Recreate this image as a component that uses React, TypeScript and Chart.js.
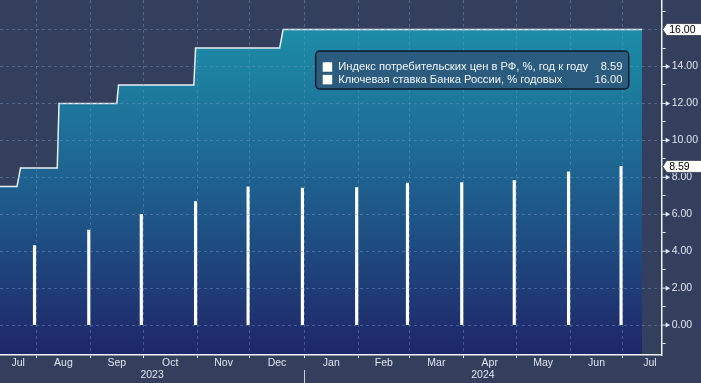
import React, { useEffect, useRef } from 'react';
import { Chart, registerables } from 'chart.js';

Chart.register(...registerables);

const dayNum = (s: string): number => {
  const [y, m, d] = s.split('-').map(Number);
  return Date.UTC(y, m - 1, d) / 86400000;
};

// ---- tick labels / categories ----
const monthNames = ['Jul', 'Aug', 'Sep', 'Oct', 'Nov', 'Dec', 'Jan', 'Feb', 'Mar', 'Apr', 'May', 'Jun', 'Jul'];
const monthStarts = [
  '2023-07-01', '2023-08-01', '2023-09-01', '2023-10-01', '2023-11-01', '2023-12-01', '2024-01-01',
  '2024-02-01', '2024-03-01', '2024-04-01', '2024-05-01', '2024-06-01', '2024-07-01', '2024-08-01',
];
const yearNames = ['2023', '2024'];
const yearStarts = ['2023-01-01', '2024-01-01', '2025-01-01'];
const yMajorTicks = [0, 2, 4, 6, 8, 10, 12, 14, 16];
const yMinorTicks = [-1, 1, 3, 5, 7, 9, 11, 13, 15, 17];

// ---- series ----
const legendLabels = [
  'Индекс потребительских цен в РФ, %, год к году',
  'Ключевая ставка Банка России, % годовых',
];
const cpiDates = [
  '2023-07-31', '2023-08-31', '2023-09-30', '2023-10-31', '2023-11-30', '2023-12-31',
  '2024-01-31', '2024-02-29', '2024-03-31', '2024-04-30', '2024-05-31', '2024-06-30',
];
const cpiValues = [4.3, 5.15, 6.0, 6.69, 7.48, 7.42, 7.44, 7.69, 7.72, 7.84, 8.3, 8.59];

const keyRateDates = [
  '2023-07-01', '2023-07-21', '2023-07-23', '2023-08-13', '2023-08-14', '2023-09-16',
  '2023-09-17', '2023-10-30', '2023-10-31', '2023-12-18', '2023-12-20', '2024-07-12',
];
const keyRateValues = [7.5, 7.5, 8.5, 8.5, 12, 12, 13, 13, 15, 15, 16, 16];

// ---- axis ranges ----
const X_MIN = dayNum('2023-08-01') - 20.7;
const X_MAX = X_MIN + 377.9;
const Y_MIN = -1.62;
const Y_MAX = 17.6;

const BG = '#343f5e';
const GRID = 'rgba(112, 150, 200, 0.45)';
const AXIS = '#eef1f6';
const TEXT = '#e0e5ed';
const FONT = 'Liberation Sans';

const monthLabelPos = monthNames.map(
  (_, i) => (Math.max(dayNum(monthStarts[i]), X_MIN) + dayNum(monthStarts[i + 1])) / 2
);
const yearLabelPos = yearNames.map(
  (_, i) => (Math.max(dayNum(yearStarts[i]), X_MIN) + Math.min(dayNum(yearStarts[i + 1]), X_MAX)) / 2
);
const isMajor = (v: number) => yMajorTicks.includes(v);

function roundRectPath(ctx: CanvasRenderingContext2D, x: number, y: number, w: number, h: number, r: number) {
  ctx.beginPath();
  ctx.moveTo(x + r, y);
  ctx.lineTo(x + w - r, y);
  ctx.arcTo(x + w, y, x + w, y + r, r);
  ctx.lineTo(x + w, y + h - r);
  ctx.arcTo(x + w, y + h, x + w - r, y + h, r);
  ctx.lineTo(x + r, y + h);
  ctx.arcTo(x, y + h, x, y + h - r, r);
  ctx.lineTo(x, y + r);
  ctx.arcTo(x, y, x + r, y, r);
  ctx.closePath();
}

function drawTag(ctx: CanvasRenderingContext2D, ax: number, py: number, text: string, right: number) {
  const h = 12;
  const tip = ax + 1;
  const bx = tip + 4;
  ctx.beginPath();
  ctx.moveTo(tip, py);
  ctx.lineTo(bx, py - h / 2);
  ctx.lineTo(right + 2, py - h / 2);
  ctx.lineTo(right + 2, py + h / 2);
  ctx.lineTo(bx, py + h / 2);
  ctx.closePath();
  ctx.fillStyle = '#ffffff';
  ctx.fill();
  ctx.strokeStyle = '#30384a';
  ctx.lineWidth = 0.8;
  ctx.stroke();
  ctx.fillStyle = '#000000';
  ctx.font = `10.5px "${FONT}"`;
  ctx.textAlign = 'left';
  ctx.textBaseline = 'middle';
  ctx.fillText(text, bx + 2.5, py + 0.5);
}

const bgPlugin = {
  id: 'bgPlugin',
  beforeDraw(chart: any) {
    const { ctx, width, height } = chart;
    ctx.save();
    ctx.fillStyle = BG;
    ctx.fillRect(0, 0, width, height);
    ctx.restore();
  },
};

const overlayPlugin = {
  id: 'overlayPlugin',
  afterDraw(chart: any) {
    const { ctx, chartArea } = chart;
    const ys = chart.scales.y;
    const xs = chart.scales.x;
    const ax = ys.left;
    ctx.save();
    // arrow-shaped major ticks
    ctx.fillStyle = TEXT;
    ctx.strokeStyle = TEXT;
    ctx.lineWidth = 1;
    for (const v of yMajorTicks) {
      const py = ys.getPixelForValue(v);
      ctx.beginPath();
      ctx.moveTo(ax, py);
      ctx.lineTo(ax + 5, py);
      ctx.stroke();
      ctx.beginPath();
      ctx.moveTo(ax + 4, py - 2.5);
      ctx.lineTo(ax + 8.5, py);
      ctx.lineTo(ax + 4, py + 2.5);
      ctx.closePath();
      ctx.fill();
    }
    // year separator
    const sx = Math.round(xs.getPixelForValue(dayNum(yearStarts[1]))) + 0.5;
    ctx.strokeStyle = '#c9cfdb';
    ctx.lineWidth = 1;
    ctx.beginPath();
    ctx.moveTo(sx, chart.scales.xYear.top);
    ctx.lineTo(sx, chart.height);
    ctx.stroke();

    // last-value tags
    const lastRate = keyRateValues[keyRateValues.length - 1];
    const lastCpi = cpiValues[cpiValues.length - 1];
    drawTag(ctx, ax, ys.getPixelForValue(lastRate), lastRate.toFixed(2), chart.width);
    drawTag(ctx, ax, ys.getPixelForValue(lastCpi), lastCpi.toFixed(2), chart.width);

    // legend
    const lw = 313;
    const lh = 38;
    const lx = chartArea.right - 33 - lw;
    const ly = chartArea.top + 51;
    roundRectPath(ctx, lx, ly, lw, lh, 4);
    ctx.fillStyle = '#2b5c80';
    ctx.fill();
    ctx.strokeStyle = '#0f1a2a';
    ctx.lineWidth = 1.5;
    ctx.stroke();
    const rows = [
      { label: legendLabels[0], value: lastCpi.toFixed(2) },
      { label: legendLabels[1], value: lastRate.toFixed(2) },
    ];
    ctx.font = `11.2px "${FONT}"`;
    ctx.textBaseline = 'middle';
    rows.forEach((r, i) => {
      const ry = ly + 16 + i * 12.6;
      ctx.fillStyle = '#ffffff';
      ctx.fillRect(lx + 7, ry - 4.75, 9.5, 9.5);
      ctx.fillStyle = '#f4f6fa';
      ctx.textAlign = 'left';
      ctx.fillText(r.label, lx + 22.5, ry);
      ctx.textAlign = 'right';
      ctx.fillText(r.value, lx + lw - 6.3, ry);
    });
    ctx.restore();
  },
};

export default function App() {
  const ref = useRef<HTMLCanvasElement | null>(null);

  useEffect(() => {
    document.body.style.margin = '0';
    const canvas = ref.current;
    if (!canvas) return;

    const fill = (c: any) => {
      const a = c.chart.chartArea;
      if (!a) return 'transparent';
      const g = c.chart.ctx.createLinearGradient(0, a.top, 0, a.bottom);
      g.addColorStop(0, '#1c95ad');
      g.addColorStop(0.5, '#1e6290');
      g.addColorStop(1, '#1f2667');
      return g;
    };

    const font = { family: FONT, size: 10.5, lineHeight: 1 };

    const chart = new Chart(canvas, {
      type: 'line',
      data: {
        datasets: [
          {
            type: 'bar',
            label: legendLabels[0],
            data: cpiDates.map((d, i) => ({ x: dayNum(d), y: cpiValues[i] })),
            backgroundColor: '#ffffff',
            borderWidth: 0,
            barThickness: 2.5,
            xAxisID: 'x',
            yAxisID: 'y',
          } as any,
          {
            type: 'line',
            label: legendLabels[1],
            data: keyRateDates.map((d, i) => ({ x: dayNum(d), y: keyRateValues[i] })),
            borderColor: '#e8eef6',
            borderWidth: 1.5,
            pointRadius: 0,
            tension: 0,
            fill: 'start',
            backgroundColor: fill,
            xAxisID: 'x',
            yAxisID: 'y',
          } as any,
        ],
      },
      options: {
        responsive: false,
        animation: false,
        layout: { padding: 0 },
        plugins: { legend: { display: false }, tooltip: { enabled: false } },
        scales: {
          x: {
            type: 'linear',
            position: 'bottom',
            min: X_MIN,
            max: X_MAX,
            offset: false,
            weight: 0,
            afterBuildTicks: (s: any) => {
              s.ticks = monthStarts
                .map(dayNum)
                .filter((v) => v > X_MIN && v < X_MAX)
                .map((v) => ({ value: v }));
            },
            afterFit: (s: any) => {
              s.height = 3;
              s.paddingLeft = 0;
              s.paddingRight = 0;
            },
            ticks: { display: false },
            grid: {
              color: GRID,
              lineWidth: 1,
              drawTicks: true,
              tickLength: 3,
              tickColor: AXIS,
              tickBorderDash: [],
              offset: false,
              z: 1,
            },
            border: { display: true, color: AXIS, width: 1.5, dash: [3, 3], z: 1 },
          },
          xMonth: {
            type: 'linear',
            position: 'bottom',
            min: X_MIN,
            max: X_MAX,
            offset: false,
            weight: 1,
            afterBuildTicks: (s: any) => {
              s.ticks = monthLabelPos.map((v) => ({ value: v }));
            },
            afterFit: (s: any) => {
              s.height = 12;
              s.paddingLeft = 0;
              s.paddingRight = 0;
            },
            grid: { display: false, drawTicks: false, tickLength: 0 },
            border: { display: false },
            ticks: {
              autoSkip: false,
              maxRotation: 0,
              padding: 0,
              color: TEXT,
              font,
              callback: (_v: any, i: number) => monthNames[i],
            },
          },
          xYear: {
            type: 'linear',
            position: 'bottom',
            min: X_MIN,
            max: X_MAX,
            offset: false,
            weight: 2,
            afterBuildTicks: (s: any) => {
              s.ticks = yearLabelPos.map((v) => ({ value: v }));
            },
            afterFit: (s: any) => {
              s.height = 13;
              s.paddingLeft = 0;
              s.paddingRight = 0;
            },
            grid: { display: false, drawTicks: false, tickLength: 0 },
            border: { display: false },
            ticks: {
              autoSkip: false,
              maxRotation: 0,
              padding: 0,
              color: TEXT,
              font,
              callback: (_v: any, i: number) => yearNames[i],
            },
          },
          y: {
            type: 'linear',
            position: 'right',
            min: Y_MIN,
            max: Y_MAX,
            afterBuildTicks: (s: any) => {
              s.ticks = [...yMinorTicks, ...yMajorTicks].sort((a, b) => a - b).map((v) => ({ value: v }));
            },
            afterFit: (s: any) => {
              s.width = 39.3;
              s.paddingTop = 0;
              s.paddingBottom = 0;
            },
            grid: {
              color: (c: any) => (c.tick && isMajor(c.tick.value) ? GRID : 'rgba(0,0,0,0)'),
              lineWidth: 1,
              drawTicks: true,
              tickLength: 4,
              tickColor: (c: any) => (c.tick && isMajor(c.tick.value) ? 'rgba(0,0,0,0)' : TEXT),
              tickBorderDash: [],
              z: 1,
            },
            border: { display: true, color: AXIS, width: 1.5, dash: [3, 3], z: 1 },
            ticks: {
              autoSkip: false,
              padding: 6,
              color: TEXT,
              font: { family: FONT, size: 10.5 },
              callback: (v: any) => (isMajor(Number(v)) ? Number(v).toFixed(2) : ''),
            },
          },
        },
      } as any,
      plugins: [bgPlugin, overlayPlugin],
    });

    return () => chart.destroy();
  }, []);

  return (
    <div style={{ width: 701, height: 383 }}>
      <canvas ref={ref} width={701} height={383} style={{ display: 'block', width: 701, height: 383 }} />
    </div>
  );
}
